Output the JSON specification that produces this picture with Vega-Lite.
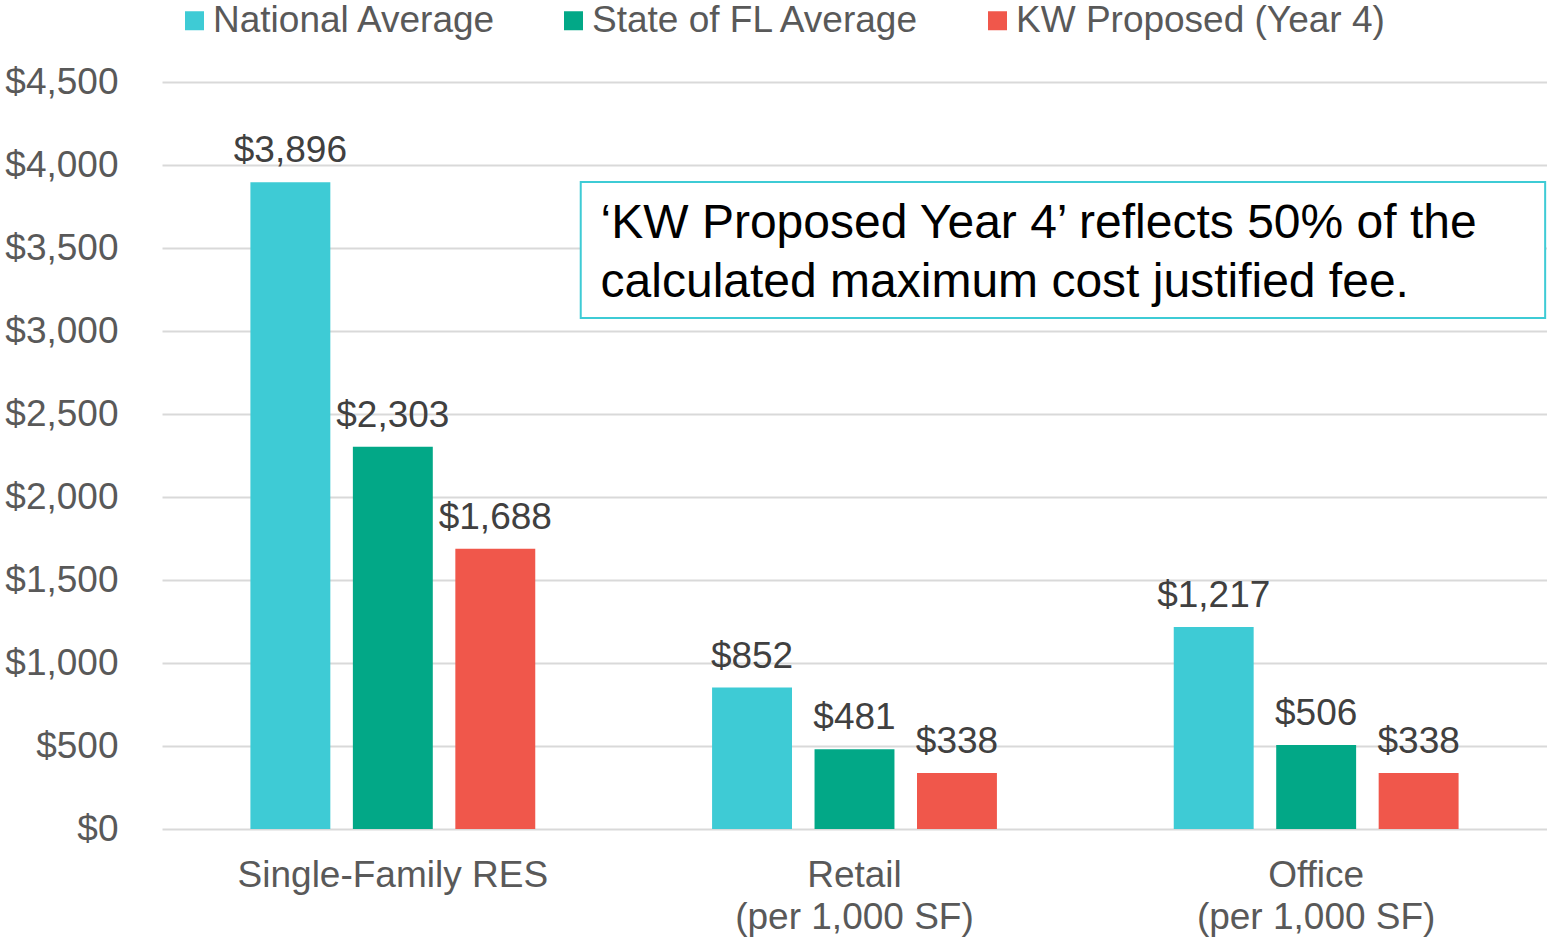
{
  "$schema": "https://vega.github.io/schema/vega-lite/v6.json",
  "autosize": "none",
  "width": 1385,
  "height": 747,
  "padding": {"left": 162, "top": 82, "right": 0, "bottom": 109},
  "background": "white",
  "config": {
    "font": "Liberation Sans",
    "view": {"stroke": null}
  },
  "datasets": {
    "bars": [
      {"category": "Single-Family RES", "series": "National Average", "value": 3896},
      {"category": "Single-Family RES", "series": "State of FL Average", "value": 2303},
      {"category": "Single-Family RES", "series": "KW Proposed (Year 4)", "value": 1688},
      {"category": "Retail|(per 1,000 SF)", "series": "National Average", "value": 852},
      {"category": "Retail|(per 1,000 SF)", "series": "State of FL Average", "value": 481},
      {"category": "Retail|(per 1,000 SF)", "series": "KW Proposed (Year 4)", "value": 338},
      {"category": "Office|(per 1,000 SF)", "series": "National Average", "value": 1217},
      {"category": "Office|(per 1,000 SF)", "series": "State of FL Average", "value": 506},
      {"category": "Office|(per 1,000 SF)", "series": "KW Proposed (Year 4)", "value": 338}
    ],
    "note": [
      {"x1": 0.907, "x2": 2.996, "y1": 3897, "y2": 3078, "tx": 0.95, "ty": 3560, "label": "‘KW Proposed Year 4’ reflects 50% of the|calculated maximum cost justified fee."}
    ]
  },
  "layer": [
    {
      "data": {"name": "bars"},
      "encoding": {
        "x": {
          "field": "category",
          "type": "nominal",
          "sort": null,
          "scale": {"paddingInner": 0.383, "paddingOuter": 0.1915},
          "axis": {
            "title": null,
            "labelAngle": 0,
            "domain": false,
            "ticks": false,
            "labelFontSize": 37,
            "labelColor": "#595959",
            "labelPadding": 28,
            "labelLineHeight": 42,
            "labelLimit": 800,
            "labelExpr": "split(datum.label, '|')"
          }
        },
        "xOffset": {
          "field": "series",
          "type": "nominal",
          "sort": ["National Average", "State of FL Average", "KW Proposed (Year 4)"],
          "scale": {"paddingInner": 0.22, "paddingOuter": 0}
        },
        "y": {
          "field": "value",
          "type": "quantitative",
          "scale": {"domain": [0, 4500], "nice": false},
          "axis": {
            "title": null,
            "values": [0, 500, 1000, 1500, 2000, 2500, 3000, 3500, 4000, 4500],
            "format": "$,.0f",
            "domain": false,
            "ticks": false,
            "labelFontSize": 37,
            "labelColor": "#595959",
            "labelPadding": 44,
            "gridColor": "#d9d9d9",
            "gridWidth": 2
          }
        }
      },
      "layer": [
        {
          "mark": {"type": "bar"},
          "encoding": {
            "color": {
              "field": "series",
              "type": "nominal",
              "sort": ["National Average", "State of FL Average", "KW Proposed (Year 4)"],
              "scale": {
                "domain": ["National Average", "State of FL Average", "KW Proposed (Year 4)"],
                "range": ["#3ecbd5", "#02a887", "#f0574b"]
              },
              "legend": {
                "title": null,
                "orient": "none",
                "direction": "horizontal",
                "legendX": 14,
                "legendY": -80,
                "symbolType": "square",
                "symbolSize": 361,
                "symbolStrokeWidth": 0,
                "labelFontSize": 37,
                "labelColor": "#595959",
                "labelOffset": 0,
                "columnPadding": 58,
                "labelLimit": 600
              }
            }
          }
        },
        {
          "mark": {"type": "text", "baseline": "alphabetic", "dy": -20, "fontSize": 37, "color": "#404040"},
          "encoding": {
            "text": {"field": "value", "type": "quantitative", "format": "$,.0f"}
          }
        }
      ]
    },
    {
      "data": {"name": "note"},
      "layer": [
        {
          "mark": {"type": "rect", "fill": "white", "stroke": "#3ecbd5", "strokeWidth": 2},
          "encoding": {
            "x": {"field": "x1", "type": "quantitative", "scale": {"domain": [0, 3], "nice": false, "zero": false}, "axis": null},
            "x2": {"field": "x2"},
            "y": {"field": "y1", "type": "quantitative", "title": null},
            "y2": {"field": "y2"}
          }
        },
        {
          "mark": {"type": "text", "align": "left", "baseline": "alphabetic", "fontSize": 48, "color": "#000000", "lineHeight": 59, "lineBreak": "|"},
          "encoding": {
            "x": {"field": "tx", "type": "quantitative", "scale": {"domain": [0, 3], "nice": false, "zero": false}, "axis": null},
            "y": {"field": "ty", "type": "quantitative", "title": null},
            "text": {"field": "label", "type": "nominal"}
          }
        }
      ]
    }
  ],
  "resolve": {"scale": {"x": "independent"}}
}
